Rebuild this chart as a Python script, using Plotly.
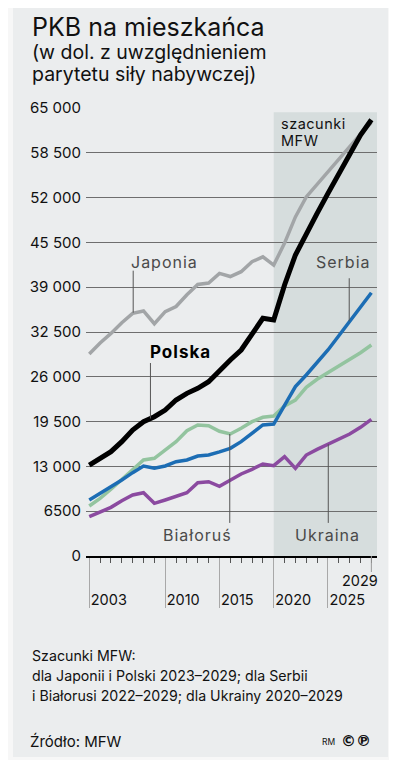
import plotly.graph_objects as go

years = list(range(2003, 2030))

japonia = [29300, 30900, 32300, 33850, 35200, 35550, 33700, 35450, 36200, 37900,
           39400, 39600, 41000, 40550, 41250, 42700, 43400, 42200, 45400, 49200,
           52100, 53950, 55800, 57600, 59400, 61200, 62900]
polska = [13200, 14170, 15140, 16590, 18280, 19490, 20210, 21180, 22630, 23600,
          24330, 25290, 26990, 28440, 29890, 32310, 34490, 34240, 39320, 43670,
          46820, 49720, 52620, 55520, 58420, 61080, 63300]
serbia = [8130, 9100, 9970, 11030, 12090, 13060, 12720, 13060, 13680, 13930,
          14510, 14650, 15100, 15620, 16590, 17800, 19010, 19150, 21910, 24570,
          26260, 28050, 29890, 31950, 34100, 36100, 38200]
bialorus = [7250, 8370, 9680, 11130, 12480, 13930, 14170, 15380, 16590, 18180,
            19010, 18900, 18100, 17700, 18520, 19490, 20120, 20310, 21760, 22630,
            24480, 25640, 26600, 27570, 28540, 29500, 30610]
ukraina = [5700, 6430, 7060, 8020, 8850, 9180, 7640, 8130, 8710, 9180,
           10640, 10780, 10100, 11030, 11900, 12580, 13350, 13100, 14410, 12720,
           14650, 15470, 16250, 16930, 17700, 18670, 19830]

ytick_vals = [0, 6500, 13000, 19500, 26000, 32500, 39000, 45500, 52000, 58500, 65000]
ytick_text = ["0", "6500", "13 000", "19 500", "26 000", "32 500", "39 000",
              "45 500", "52 000", "58 500", "65 000"]
xtick_vals = [2003, 2010, 2015, 2020, 2025]
xtick_text = ["2003", "2010", "2015", "2020", "2025"]

FONT = "Inter"
BG = "#ebedee"
OFF = 8  # page body margin

# plot area in reference-page pixels
L0, R0, T0, B0 = 86, 377, 108, 556
W, H = 397 - OFF, 760 - OFF
L, R, T, B = L0 - OFF, R0 - OFF, T0 - OFF, B0 - OFF


def px(p):
    return (p - OFF - L) / (R - L)


def py(p):
    return (B - (p - OFF)) / (B - T)


fig = go.Figure()

series = [
    ("Japonia", japonia, "#a2a5a7", 3.5),
    ("Białoruś", bialorus, "#93c49f", 3.5),
    ("Ukraina", ukraina, "#8b4aa0", 3.5),
    ("Serbia", serbia, "#1c6db4", 3.5),
    ("Polska", polska, "#000000", 5),
]
for name, vals, col, w in series:
    fig.add_trace(go.Scatter(x=years, y=vals, mode="lines", name=name,
                             line=dict(color=col, width=w),
                             hoverinfo="skip"))

shapes = []
# card background
shapes.append(dict(type="rect", xref="paper", yref="paper",
                   x0=px(13), x1=px(388), y0=py(757), y1=py(0),
                   fillcolor=BG, line=dict(width=0), layer="below"))
# estimates shading
shapes.append(dict(type="rect", xref="x", yref="y",
                   x0=2020, x1=2029.52, y0=0, y1=64400,
                   fillcolor="#d6dddd", line=dict(width=0), layer="below"))

lead = dict(color="#555555", width=1)
shapes.append(dict(type="line", xref="x", yref="y", x0=2007.05, x1=2007.05,
                   y0=35300, y1=41400, line=lead))
shapes.append(dict(type="line", xref="x", yref="y", x0=2008.64, x1=2008.64,
                   y0=19950, y1=28000, line=lead))
shapes.append(dict(type="line", xref="x", yref="y", x0=2026.96, x1=2026.96,
                   y0=34050, y1=40300, line=lead))
shapes.append(dict(type="line", xref="x", yref="y", x0=2015.95, x1=2015.95,
                   y0=4800, y1=17700, line=lead))
shapes.append(dict(type="line", xref="x", yref="y", x0=2025.03, x1=2025.03,
                   y0=4800, y1=16250, line=lead))
# 2029 tick line
shapes.append(dict(type="line", xref="x", yref="paper", x0=2029, x1=2029,
                   y0=py(572), y1=py(556), line=dict(color="#9a9a9a", width=1)))

ann = []


def txt(x, y, text, size, xanchor="left", yanchor="middle", color="#111",
        ref="paper", spacing=None, family=FONT):
    if spacing:
        text = f"<span style='letter-spacing:{spacing}px'>{text}</span>"
    ann.append(dict(x=x, y=y, xref=ref if ref == "paper" else "x",
                    yref=ref if ref == "paper" else "y", text=text,
                    showarrow=False, font=dict(family=family, size=size, color=color),
                    xanchor=xanchor, yanchor=yanchor))


lc = "#4a4a4a"
txt(2009.9, 42650, "Japonia", 16, "center", color=lc, ref="data", spacing=1)
txt(2026.45, 42650, "Serbia", 16, "center", color=lc, ref="data", spacing=1)
txt(2012.97, 3050, "Białoruś", 16, "center", color=lc, ref="data", spacing=1)
txt(2024.95, 3050, "Ukraina", 16, "center", color=lc, ref="data", spacing=1)
txt(2011.4, 29530, "<b>Polska</b>", 17, "center", color="#000", ref="data", spacing=1)
# estimates label
txt(px(279), py(123), "szacunki", 14.5, spacing=0.5)
txt(px(279), py(140), "MFW", 14.5, spacing=0.5)
# 2029 label
txt(px(380), py(580), "2029", 14.5, "right")
# title
txt(px(30), py(27), "PKB na mieszkańca", 25)
txt(px(30), py(52), "(w dol. z uwzględnieniem", 19.5)
txt(px(30), py(74), "parytetu siły nabywczej)", 19.5)
# footnote
txt(px(30), py(655), "Szacunki MFW:", 14.2)
txt(px(30), py(675), "dla Japonii i Polski 2023–2029; dla Serbii", 14.2)
txt(px(30), py(695), "i Białorusi 2022–2029; dla Ukrainy 2020–2029", 14.2)
txt(px(28), py(741), "Źródło: MFW", 15)
txt(px(337), py(742), "RM", 8.5, "right")
txt(px(373), py(741), "<b>©℗</b>", 15, "right", family="DejaVu Sans")

fig.update_layout(
    width=W, height=H,
    margin=dict(l=L, r=W - R, t=T, b=H - B, pad=0),
    paper_bgcolor="#f7f7f7", plot_bgcolor="rgba(0,0,0,0)",
    showlegend=False,
    shapes=shapes, annotations=ann,
    font=dict(family=FONT, size=14, color="#111"),
)
fig.update_xaxes(
    range=[2002.7, 2029.52], showgrid=False, zeroline=False,
    showline=True, linecolor="#000", linewidth=2,
    tickvals=xtick_vals, ticktext=xtick_text,
    ticks="outside", ticklen=50, tickcolor="#a8a8a8", tickwidth=1,
    ticklabelposition="outside right", ticklabelstandoff=30,
    tickfont=dict(family=FONT, size=14.5, color="#111"),
    minor=dict(dtick=1, tick0=2003, ticks="outside", ticklen=5,
               tickcolor="#555", tickwidth=1, showgrid=False),
)
fig.update_yaxes(
    range=[0, 65000], tickvals=ytick_vals, ticktext=ytick_text,
    showgrid=True, gridcolor="#6e6e6e", gridwidth=1, zeroline=False,
    showline=False, ticks="", ticklabelstandoff=4,
    tickfont=dict(family=FONT, size=15, color="#111"),
)

fig.write_html("out.html")
